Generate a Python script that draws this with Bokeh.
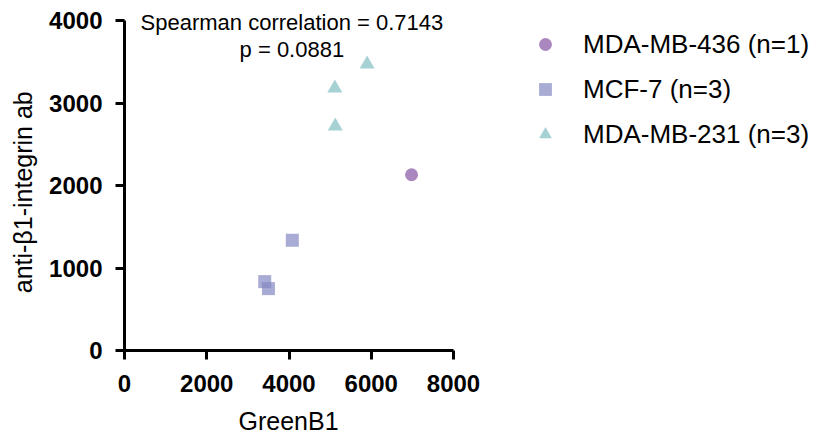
import math
from bokeh.plotting import figure
from bokeh.models import Legend, LegendItem, FixedTicker, Label, Range1d
from bokeh.embed import file_html
from bokeh.resources import INLINE

# Data
mda436_x = [6980]
mda436_y = [2130]
mcf7_x = [4080, 3410, 3500]
mcf7_y = [1335, 835, 750]
mda231_x = [5900, 5115, 5125]
mda231_y = [3470, 3180, 2720]
series_labels = ["MDA-MB-436 (n=1)", "MCF-7 (n=3)", "MDA-MB-231 (n=3)"]
x_ticks = [0, 2000, 4000, 6000, 8000]
y_ticks = [0, 1000, 2000, 3000, 4000]
x_bounds = (0, 8000)
y_bounds = (0, 4000)
x_label = "GreenB1"
y_label = "anti-β1-integrin  ab"
stat_lines = ["Spearman correlation = 0.7143", "p = 0.0881"]

FONT = "Liberation Sans"

# canvas geometry (frame covers whole canvas; axes sit at data 0)
W, H = 818, 436
X0_PX, Y0_PX = 124, 350
px_per_x = 329 / 8000.0
px_per_y = 330 / 4000.0
x_start = -X0_PX / px_per_x
x_end = (W - X0_PX) / px_per_x
y_start = -(H - Y0_PX) / px_per_y
y_end = Y0_PX / px_per_y

p = figure(width=W, height=H, output_backend="svg", toolbar_location=None,
           x_range=Range1d(x_start, x_end), y_range=Range1d(y_start, y_end),
           min_border_left=0, min_border_right=0, min_border_top=0, min_border_bottom=0)
p.outline_line_color = None
p.xgrid.visible = False
p.ygrid.visible = False
p.background_fill_color = None
p.border_fill_color = "white"

r1 = p.scatter(mda436_x, mda436_y, marker="circle", size=13, fill_color="#8654a2",
               fill_alpha=0.7, line_color=None)
r2 = p.scatter(mcf7_x, mcf7_y, marker="square", size=13, fill_color="#8388c2",
               fill_alpha=0.7, line_color=None)
r3 = p.scatter(mda231_x, mda231_y, marker="triangle", size=15, fill_color="#80bfc2",
               fill_alpha=0.7, line_color=None)

for ax in (p.xaxis[0], p.yaxis[0]):
    ax.fixed_location = 0
    ax.axis_line_width = 3
    ax.axis_line_color = "black"
    ax.major_tick_line_width = 3
    ax.major_tick_out = 9
    ax.major_tick_in = 0
    ax.minor_tick_line_color = None
    ax.major_label_text_font = FONT
    ax.major_label_text_font_style = "bold"
    ax.major_label_text_font_size = "24px"
    ax.major_label_text_color = "black"

p.xaxis.bounds = x_bounds
p.yaxis.bounds = y_bounds
p.xaxis.ticker = FixedTicker(ticks=x_ticks)
p.yaxis.ticker = FixedTicker(ticks=y_ticks)
p.xaxis.major_label_standoff = 15
p.yaxis.major_label_standoff = 13

# axis titles (data coordinates relative to the axes)
p.add_layout(Label(x=3988, y=-(420 - Y0_PX) / px_per_y, text=x_label, text_font=FONT,
                   text_font_size="25px", text_align="center", text_baseline="middle",
                   text_color="black"))
p.add_layout(Label(x=(22 - X0_PX) / px_per_x, y=1960, text=y_label, text_font=FONT,
                   text_font_size="25px", text_align="center", text_baseline="middle",
                   angle=math.pi / 2, text_color="black"))

p.add_layout(Label(x=4070, y=3976, text=stat_lines[0], text_font=FONT, text_font_size="22px",
                   text_align="center", text_baseline="middle", text_color="black"))
p.add_layout(Label(x=4070, y=3648, text=stat_lines[1], text_font=FONT, text_font_size="22px",
                   text_align="center", text_baseline="middle", text_color="black"))

legend = Legend(items=[LegendItem(label=series_labels[0], renderers=[r1]),
                       LegendItem(label=series_labels[1], renderers=[r2]),
                       LegendItem(label=series_labels[2], renderers=[r3])],
                location=(529, H - 150))
legend.border_line_color = None
legend.background_fill_alpha = 0
legend.label_text_font = FONT
legend.label_text_font_size = "26px"
legend.label_text_color = "black"
legend.label_height = 32
legend.glyph_height = 32
legend.glyph_width = 32
legend.spacing = 13
legend.label_standoff = 22
legend.padding = 0
legend.margin = 0
p.add_layout(legend, "center")

open("out.html", "w").write(file_html(p, INLINE))
